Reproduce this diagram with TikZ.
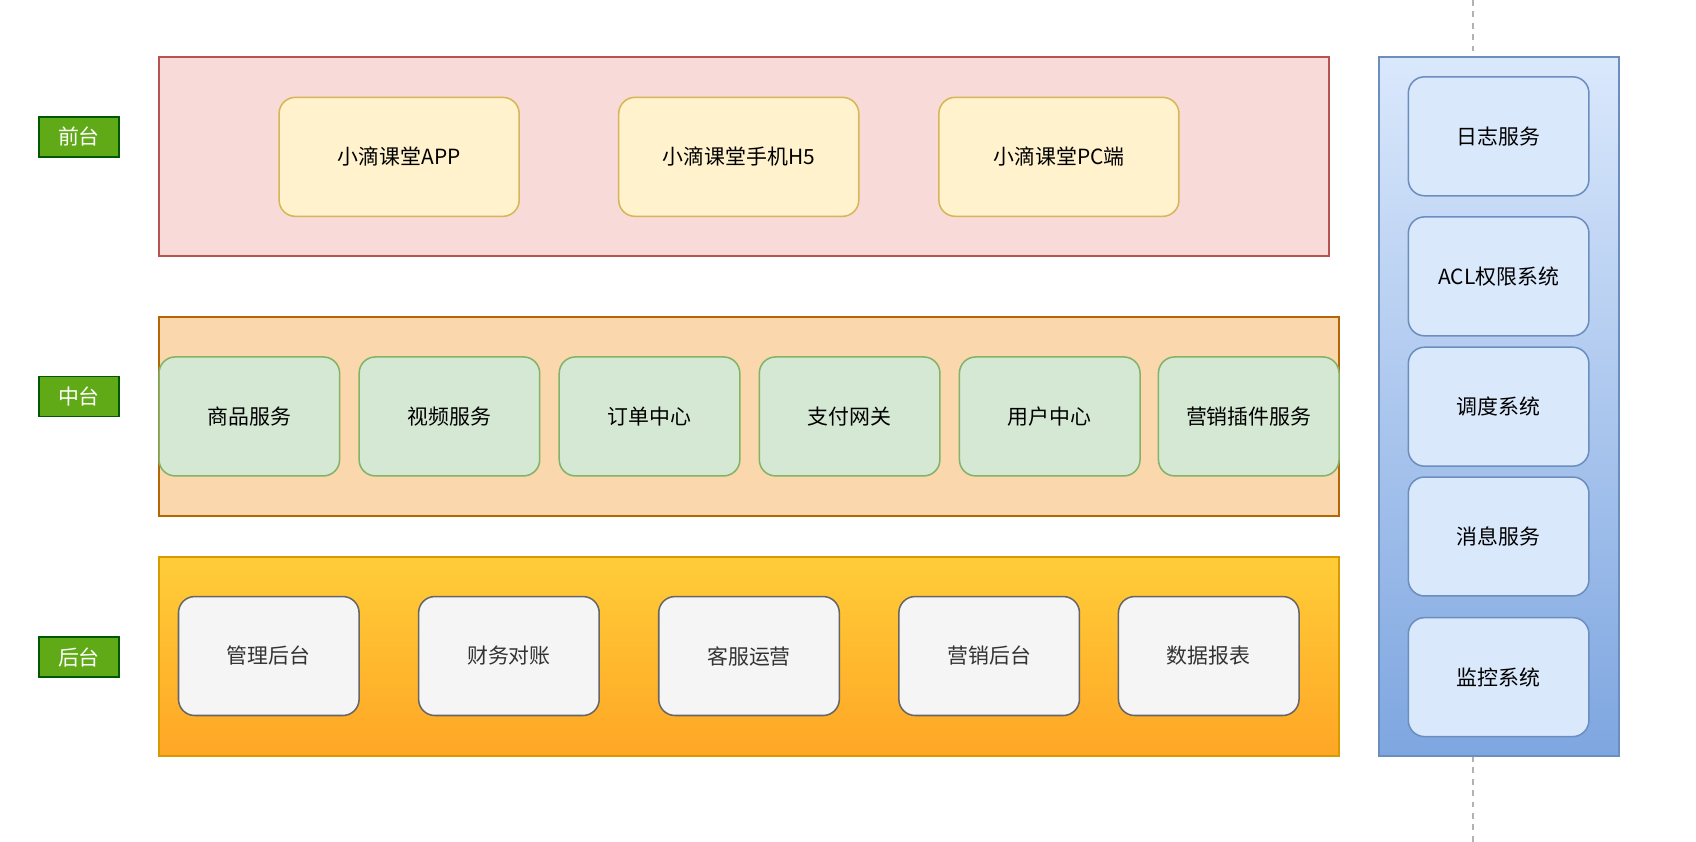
\documentclass[tikz,border=0pt]{standalone}
\usepackage{fontspec}
\setmainfont{Noto Sans CJK SC}
\definecolor{lgreen}{HTML}{60A917}
\definecolor{fbord}{HTML}{D6B656}\definecolor{ffill}{HTML}{FFF2CC}
\definecolor{mbord}{HTML}{82B366}\definecolor{mfill}{HTML}{D5E8D4}
\definecolor{bbord}{HTML}{666666}\definecolor{bfill}{HTML}{F5F5F5}
\definecolor{rbord}{HTML}{6C8EBF}\definecolor{rfill}{HTML}{DAE8FC}
\definecolor{rdark}{HTML}{7EA6E0}
\definecolor{pred}{HTML}{B85450}\definecolor{ppink}{HTML}{F8DAD8}
\definecolor{porg}{HTML}{B46504}\definecolor{pkfill}{HTML}{FAD7AC}
\definecolor{ybord}{HTML}{D79B00}\definecolor{ytop}{HTML}{FFCD38}\definecolor{ybot}{HTML}{FFA626}
\begin{document}
\begin{tikzpicture}[x=0.02cm,y=-0.02cm,
 lbl/.style={draw=green!35!black,fill=lgreen,text=white,line width=0.8pt,minimum width=1.48cm,minimum height=0.74cm,inner sep=0pt,font=\fontsize{11}{13}\selectfont},
 bx/.style={rounded corners=0.3cm,line width=0.8pt,inner sep=0pt,minimum width=3.34cm,minimum height=2.2cm,font=\fontsize{11}{13}\selectfont},
 fbx/.style={bx,draw=fbord,fill=ffill,minimum width=4.44cm},
 mbx/.style={bx,draw=mbord,fill=mfill},
 bbx/.style={bx,draw=bbord,fill=bfill,text=black!80},
 rbx/.style={bx,draw=rbord,fill=rfill}]
\useasboundingbox (0,0) rectangle (1568,778);
\draw[gray!60,dashed,line width=1pt] (1362,0) -- (1362,53);
\draw[gray!60,dashed,line width=1pt] (1362,699) -- (1362,778);
\node[lbl] (l1) at (73,126.5) {前台};
\node[lbl] (l2) at (73,366.5) {中台};
\node[lbl] (l3) at (73,607.5) {后台};
\draw[draw=pred,fill=ppink,line width=1pt] (147,53) rectangle (1229,237);
\draw[draw=porg,fill=pkfill,line width=1pt] (147,293) rectangle (1238,477);
\draw[draw=ybord,top color=ytop,bottom color=ybot,line width=1pt] (147,515) rectangle (1238,699);
\draw[draw=rbord,top color=rfill,bottom color=rdark,line width=1pt] (1275,53) rectangle (1497,699);
\node[fbx] (f1) at (369,145) {小滴课堂APP};
\node[fbx] (f2) at (683,145) {小滴课堂手机H5};
\node[fbx] (f3) at (979,145) {小滴课堂PC端};
\node[mbx] (m1) at (230.5,385) {商品服务};
\node[mbx] (m2) at (415.5,385) {视频服务};
\node[mbx] (m3) at (600.5,385) {订单中心};
\node[mbx] (m4) at (785.5,385) {支付网关};
\node[mbx] (m5) at (970.5,385) {用户中心};
\node[mbx] (m6) at (1154.5,385) {营销插件服务};
\node[bbx] (b1) at (248.5,606.5) {管理后台};
\node[bbx] (b2) at (470.5,606.5) {财务对账};
\node[bbx] (b3) at (692.5,606.5) {客服运营};
\node[bbx] (b4) at (914.5,606.5) {营销后台};
\node[bbx] (b5) at (1117.5,606.5) {数据报表};
\node[rbx] (r1) at (1385.5,126) {日志服务};
\node[rbx] (r2) at (1385.5,255.5) {ACL权限系统};
\node[rbx] (r3) at (1385.5,376) {调度系统};
\node[rbx] (r4) at (1385.5,496) {消息服务};
\node[rbx] (r5) at (1385.5,626) {监控系统};
\end{tikzpicture}
\end{document}
